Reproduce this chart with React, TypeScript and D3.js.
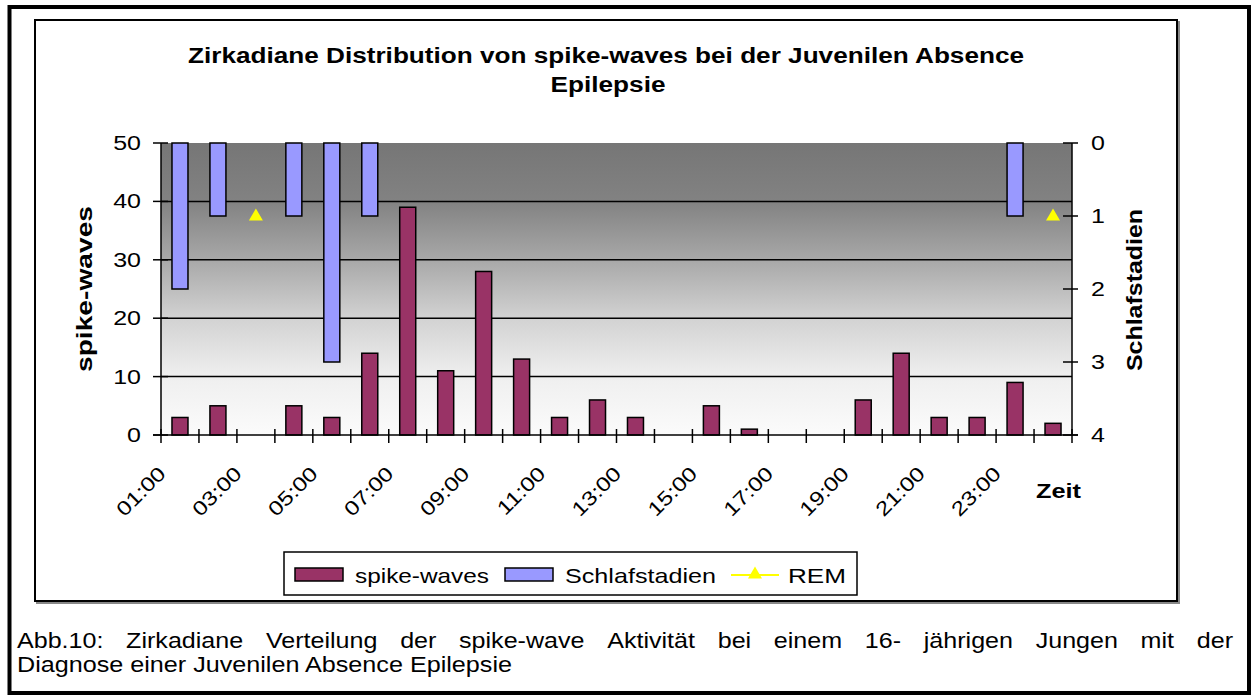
import React from "react";
import * as d3 from "d3";

const hours = ["01:00","02:00","03:00","04:00","05:00","06:00","07:00","08:00","09:00","10:00","11:00","12:00","13:00","14:00","15:00","16:00","17:00","18:00","19:00","20:00","21:00","22:00","23:00","24:00"];
const spikeWaves = [3,5,0,5,3,14,39,11,28,13,3,6,3,0,5,1,0,0,6,14,3,3,9,2];
const schlafstadien = [2,1,0,1,3,1,0,0,0,0,0,0,0,0,0,0,0,0,0,0,0,0,1,0];
const rem: (number | null)[] = [null,null,1,null,null,null,null,null,null,null,null,null,null,null,null,null,null,null,null,null,null,null,null,1];
const leftTicks = [0,10,20,30,40,50];
const rightTicks = [0,1,2,3,4];
const shownHours = hours.filter((_, i) => i % 2 === 0);

const titleLines = ["Zirkadiane Distribution von spike-waves bei der Juvenilen Absence", "Epilepsie"];
const captionLines = ["Abb.10: Zirkadiane Verteilung der spike-wave Aktivität bei einem 16- jährigen Jungen mit der", "Diagnose einer Juvenilen Absence Epilepsie"];

const FONT = "'Liberation Sans', Arial, sans-serif";

let ctx: CanvasRenderingContext2D | null = null;
function measure(text: string, size: number, bold = false) {
  if (!ctx) ctx = document.createElement("canvas").getContext("2d")!;
  ctx.font = `${bold ? "bold " : ""}${size}px 'Liberation Sans'`;
  return ctx.measureText(text).width;
}

function SText(props: { text: string; size: number; bold?: boolean; stretch?: number; length?: number; x?: number; y?: number; anchor?: string; transform?: string; fill?: string }) {
  const { text, size, bold, stretch = 1, length, x = 0, y = 0, anchor = "start", transform, fill = "#000" } = props;
  const L = length ?? measure(text, size, bold) * stretch;
  return (
    <text x={x} y={y} transform={transform} textAnchor={anchor} fontSize={size} fontWeight={bold ? "bold" : "normal"} textLength={L} lengthAdjust="spacingAndGlyphs" fill={fill}>{text}</text>
  );
}

export default function App() {
  const W = 1251, H = 695;
  const plot = { l: 161, r: 1072, t: 143, b: 435 };
  const x = d3.scaleBand<string>().domain(hours).range([plot.l, plot.r]).padding(0);
  const yL = d3.scaleLinear().domain([0, 50]).range([plot.b, plot.t]);
  const yR = d3.scaleLinear().domain([0, 4]).range([plot.t, plot.b]);
  const bw = 16;
  const cx = (h: string) => (x(h) as number) + x.bandwidth() / 2;

  // caption justification
  const capSize = 22;
  const capStretch = 1.14;
  const capL = 17, capR = 1233;
  const words1 = captionLines[0].split(" ");
  const widths1 = words1.map(w => measure(w, capSize) * capStretch);
  const gap = (capR - capL - d3.sum(widths1)) / (words1.length - 1);
  let acc = capL;
  const pos1 = widths1.map(w => { const p = acc; acc += w + gap; return p; });

  const tri = d3.symbol().type(d3.symbolTriangle).size(85);

  return (
    <svg width={W} height={H} style={{ position: "fixed", left: 0, top: 0, background: "#fff" }} fontFamily={FONT}>
      <defs>
        <linearGradient id="bg" x1="0" y1="0" x2="0" y2="1">
          <stop offset="0" stopColor="#767676" />
          <stop offset="0.2" stopColor="#828282" />
          <stop offset="0.4" stopColor="#a8a8a8" />
          <stop offset="0.6" stopColor="#d2d2d2" />
          <stop offset="0.8" stopColor="#efefef" />
          <stop offset="1" stopColor="#fbfbfb" />
        </linearGradient>
      </defs>
      <rect x={0} y={0} width={W} height={H} fill="#fff" />
      {/* outer frame */}
      <rect x={9.5} y={7} width={1239.5} height={686} fill="none" stroke="#000" strokeWidth={4} />
      {/* chart area with shadow */}
      <rect x={37} y={22} width={1142} height={581} fill="none" stroke="#888" strokeWidth={2} />
      <rect x={35} y={20} width={1142} height={581} fill="#fff" stroke="#000" strokeWidth={2} />

      {/* title */}
      <SText text={titleLines[0]} size={22} bold x={606} y={63} anchor="middle" length={836} />
      <SText text={titleLines[1]} size={22} bold x={608} y={92} anchor="middle" stretch={1.19} />

      {/* plot background */}
      <rect x={plot.l} y={plot.t} width={plot.r - plot.l} height={plot.b - plot.t} fill="url(#bg)" />

      {/* gridlines */}
      {leftTicks.filter(v => v > 0 && v < 50).map(v => (
        <line key={v} x1={plot.l} x2={plot.r} y1={yL(v)} y2={yL(v)} stroke="#000" strokeWidth={1.5} />
      ))}

      {/* spike-waves bars */}
      {hours.map((h, i) => spikeWaves[i] > 0 && (
        <rect key={"s" + h} x={cx(h) - bw / 2} y={yL(spikeWaves[i])} width={bw} height={yL(0) - yL(spikeWaves[i])} fill="#993366" stroke="#000" strokeWidth={1.5} />
      ))}
      {/* Schlafstadien bars (secondary, reversed) */}
      {hours.map((h, i) => schlafstadien[i] > 0 && (
        <rect key={"b" + h} x={cx(h) - bw / 2} y={yR(0)} width={bw} height={yR(schlafstadien[i]) - yR(0)} fill="#9999FF" stroke="#000" strokeWidth={1.5} />
      ))}
      {/* REM markers */}
      {hours.map((h, i) => rem[i] != null && (
        <path key={"r" + h} d={tri() as string} transform={`translate(${cx(h)},${yR(rem[i] as number) + 0.5})`} fill="#FFFF00" />
      ))}

      {/* axes */}
      <line x1={plot.l} x2={plot.l} y1={plot.t} y2={plot.b} stroke="#000" strokeWidth={1.5} />
      <line x1={plot.r} x2={plot.r} y1={plot.t} y2={plot.b} stroke="#000" strokeWidth={1.5} />
      <line x1={plot.l - 8} x2={plot.r + 6} y1={plot.b} y2={plot.b} stroke="#000" strokeWidth={1.5} />
      {leftTicks.map(v => (
        <g key={"lt" + v}>
          <line x1={plot.l - 8} x2={plot.l + 7} y1={yL(v)} y2={yL(v)} stroke="#000" strokeWidth={1.5} />
          <SText text={String(v)} size={20} x={141} y={yL(v) + 7} anchor="end" stretch={1.25} />
        </g>
      ))}
      {rightTicks.map(v => (
        <g key={"rt" + v}>
          <line x1={plot.r - 9} x2={plot.r + 6} y1={yR(v)} y2={yR(v)} stroke="#000" strokeWidth={1.5} />
          <SText text={String(v)} size={20} x={1091} y={yR(v) + 7} stretch={1.25} />
        </g>
      ))}
      {[...hours.map(h => x(h) as number), plot.r].map((xx, i) => (
        <line key={"xt" + i} x1={xx} x2={xx} y1={plot.b - 6} y2={plot.b + 8} stroke="#000" strokeWidth={1.5} />
      ))}
      {shownHours.map(h => (
        <SText key={"xl" + h} text={h} size={20} transform={`translate(${cx(h) - 13},${475}) rotate(-45)`} anchor="end" stretch={1.2} />
      ))}

      {/* axis titles */}
      <SText text="spike-waves" size={22} bold transform={`translate(92,289) rotate(-90)`} anchor="middle" length={166} />
      <SText text="Schlafstadien" size={22} bold transform={`translate(1142,290) rotate(-90)`} anchor="middle" length={162} />
      <SText text="Zeit" size={21} bold x={1036} y={498} length={45} />

      {/* legend */}
      <rect x={284} y={552} width={573} height={43} fill="#fff" stroke="#000" strokeWidth={1.5} />
      <rect x={295} y={568} width={48} height={13} fill="#993366" stroke="#000" strokeWidth={1.5} />
      <SText text="spike-waves" size={21} x={355} y={583} length={134} />
      <rect x={505} y={568} width={48} height={13} fill="#9999FF" stroke="#000" strokeWidth={1.5} />
      <SText text="Schlafstadien" size={21} x={565} y={583} length={151} />
      <line x1={731} x2={779} y1={575} y2={575} stroke="#FFFF00" strokeWidth={2} />
      <path d={tri() as string} transform="translate(755,574.5)" fill="#FFFF00" />
      <SText text="REM" size={21} x={788} y={583} length={58} />

      {/* caption */}
      {words1.map((w, i) => (
        <SText key={"c" + i} text={w} size={capSize} x={pos1[i]} y={648} length={widths1[i]} />
      ))}
      <SText text={captionLines[1]} size={capSize} x={capL} y={672} stretch={capStretch} />
    </svg>
  );
}
